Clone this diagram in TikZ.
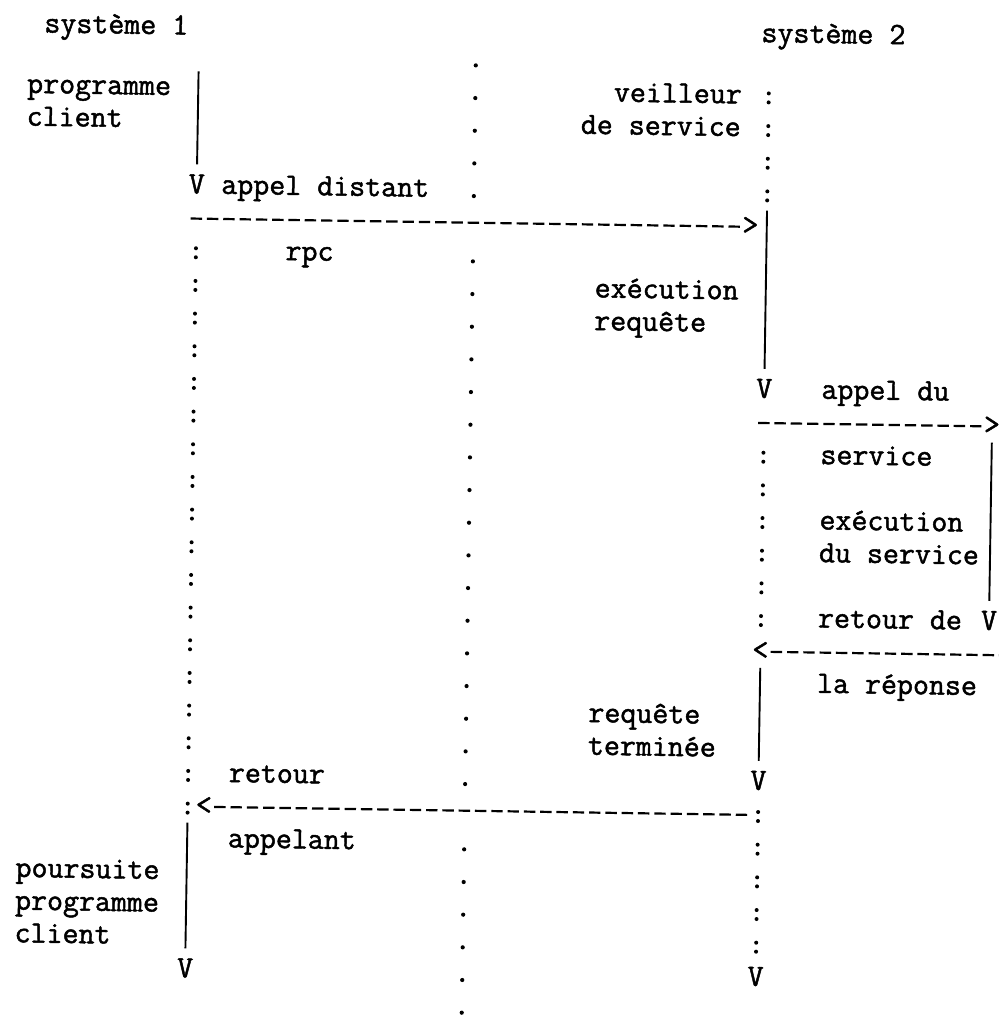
\documentclass[tikz,border=0pt]{standalone}
\usepackage{fontspec}
\newfontface\tw[FakeBold=1.5]{Latin Modern Mono}
\usetikzlibrary{calc}

% typewriter grid: left edge of column #1, baseline of row #1 (in px units)
\newcommand\gx[1]{(21.85+16.3*(#1))}
\newcommand\gy[1]{(67+32.67*(#1))}

\tikzset{
  lbl/.style={font={\tw\fontsize{15.52}{18}\selectfont}, inner sep=0pt, outer sep=0pt,
              anchor=base west, text=black, transform shape},
  bar/.style={line width=0.95pt, black},
  colons/.style={line width=2pt, line cap=round, black,
                 dash pattern=on 0pt off 4.5pt on 0pt off 11.835pt},
  dots/.style={line width=2.1pt, line cap=round, black,
               dash pattern=on 0pt off 16.335pt},
  dashline/.style={line width=1.1pt, black, dash pattern=on 5.7pt off 2.45pt},
}

\begin{document}
\begin{tikzpicture}[x=0.5pt, y=-0.5pt]
\fill[white] (0,0) rectangle (998,1016);
\useasboundingbox (0,0) rectangle (998,1016);

\begin{scope}[rotate around={-0.85:(480,450)}]

% ---- headings
\node[lbl] (sys1) at ({\gx{1}},39) {système 1};
\node[lbl] (sys2) at ({\gx{45}},38) {système 2};

% ---- client side labels
\node[lbl] (prog1)  at ({\gx{0}},{\gy{1}})  {programme};
\node[lbl] (cli1)   at ({\gx{0}},{\gy{2}})  {client};
\node[lbl] (vA)     at ({\gx{10}},{\gy{4}}) {V};
\node[lbl] (appd)   at ({\gx{12}},{\gy{4}}) {appel distant};
\node[lbl] (rpc)    at ({\gx{16}},{\gy{6}}) {rpc};
\node[lbl] (ret)    at ({\gx{13}},{\gy{22}}) {retour};
\node[lbl] (ltA)    at ({\gx{11}},{\gy{23}}) {<};
\node[lbl] (appl)   at ({\gx{13}},{\gy{24}}) {appelant};
\node[lbl] (pours)  at ({\gx{0}},{\gy{25}}) {poursuite};
\node[lbl] (prog2)  at ({\gx{0}},{\gy{26}}) {programme};
\node[lbl] (cli2)   at ({\gx{0}},{\gy{27}}) {client};
\node[lbl] (vB)     at ({\gx{10}},{\gy{28}}) {V};

% ---- server side labels
\node[lbl] (veil)   at ({\gx{36}},{\gy{1}})  {veilleur};
\node[lbl] (dserv)  at ({\gx{34}},{\gy{2}})  {de service};
\node[lbl] (gtA)    at ({\gx{44}},{\gy{5}})  {>};
\node[lbl] (exe1)   at ({\gx{35}},{\gy{7}})  {exécution};
\node[lbl] (req1)   at ({\gx{35}},{\gy{8}})  {requête};
\node[lbl] (vC)     at ({\gx{45}},{\gy{10}}) {V};
\node[lbl] (appdu)  at ({\gx{49}},{\gy{10}}) {appel du};
\node[lbl] (gtB)    at ({\gx{59}},{\gy{11}}) {>};
\node[lbl] (serv)   at ({\gx{49}},{\gy{12}}) {service};
\node[lbl] (exe2)   at ({\gx{49}},{\gy{14}}) {exécution};
\node[lbl] (duserv) at ({\gx{49}},{\gy{15}}) {du service};
\node[lbl] (retde)  at ({\gx{49}},{\gy{17}}) {retour de};
\node[lbl] (vD)     at ({\gx{59}},{\gy{17}}) {V};
\node[lbl] (ltB)    at ({\gx{45}},{\gy{18}}) {<};
\node[lbl] (larep)  at ({\gx{49}},{\gy{19}}) {la réponse};
\node[lbl] (req2)   at ({\gx{35}},{\gy{20}}) {requête};
\node[lbl] (term)   at ({\gx{35}},{\gy{21}}) {terminée};
\node[lbl] (vE)     at ({\gx{45}},{\gy{22}}) {V};
\node[lbl] (vF)     at ({\gx{45}},{\gy{28}}) {V};

% ---- client lifeline
\coordinate (cTop) at ({\gx{10.5}},{\gy{1}-24});
\draw[bar, shorten >=5pt] (cTop) -- (vA.north);
\coordinate (callA) at ({\gx{10}+2.4},{\gy{5}-7.5});
\draw[dashline] (callA) -- (callA -| gtA.west);
\coordinate (cWait1) at ({\gx{10.5}},{\gy{6}-10.5});
\coordinate (cWait2) at ({\gx{10.5}},{\gy{23}-1.2});
\draw[colons] (cWait1) -- (cWait2);
\coordinate (retA) at ({\gx{45}},{\gy{23}-7.5});
\draw[dashline, shorten <=1.2pt] (retA -| ltA.east) -- (retA);
\coordinate (cRes) at ({\gx{10.5}},{\gy{24}-24});
\draw[bar, shorten >=5pt] (cRes) -- (vB.north);

% ---- network boundary (middle dotted column)
\coordinate (m1) at ({\gx{27.5}},{\gy{0}-1.5});
\coordinate (m2) at ({\gx{27.5}},{\gy{4}-1.2});
\coordinate (m3) at ({\gx{27.5}},{\gy{6}-1.5});
\coordinate (m4) at ({\gx{27.5}},{\gy{22}-1.2});
\coordinate (m5) at ({\gx{27.5}},{\gy{24}-1.5});
\coordinate (m6) at ({\gx{27.5}},{\gy{29}-1.2});
\draw[dots] (m1) -- (m2);
\draw[dots] (m3) -- (m4);
\draw[dots] (m5) -- (m6);

% ---- service daemon lifeline
\coordinate (sW1) at ({\gx{45.5}},{\gy{1}-10.5});
\coordinate (sW2) at ({\gx{45.5}},{\gy{4}-1.2});
\draw[colons] (sW1) -- (sW2);
\coordinate (sBusy1) at ({\gx{45.5}},{\gy{5}-24});
\draw[bar, shorten >=5pt] (sBusy1) -- (vC.north);
\coordinate (callB) at ({\gx{45}+2.4},{\gy{11}-7.5});
\draw[dashline] (callB) -- (callB -| gtB.west);
\coordinate (sW3) at ({\gx{45.5}},{\gy{12}-10.5});
\coordinate (sW4) at ({\gx{45.5}},{\gy{17}-1.2});
\draw[colons] (sW3) -- (sW4);
\coordinate (retB) at ({\gx{61}},{\gy{18}-7.5});
\draw[dashline, shorten <=1.2pt] (retB -| ltB.east) -- (retB);
\coordinate (sBusy2) at ({\gx{45.5}},{\gy{19}-24});
\draw[bar, shorten >=5pt] (sBusy2) -- (vE.north);
\coordinate (sW5) at ({\gx{45.5}},{\gy{23}-10.5});
\coordinate (sW6) at ({\gx{45.5}},{\gy{27}-1.2});
\draw[colons] (sW5) -- (sW6);

% ---- called service lifeline
\coordinate (rTop) at ({\gx{59.5}},{\gy{12}-24});
\draw[bar, shorten >=5pt] (rTop) -- (vD.north);

\end{scope}
\end{tikzpicture}
\end{document}
